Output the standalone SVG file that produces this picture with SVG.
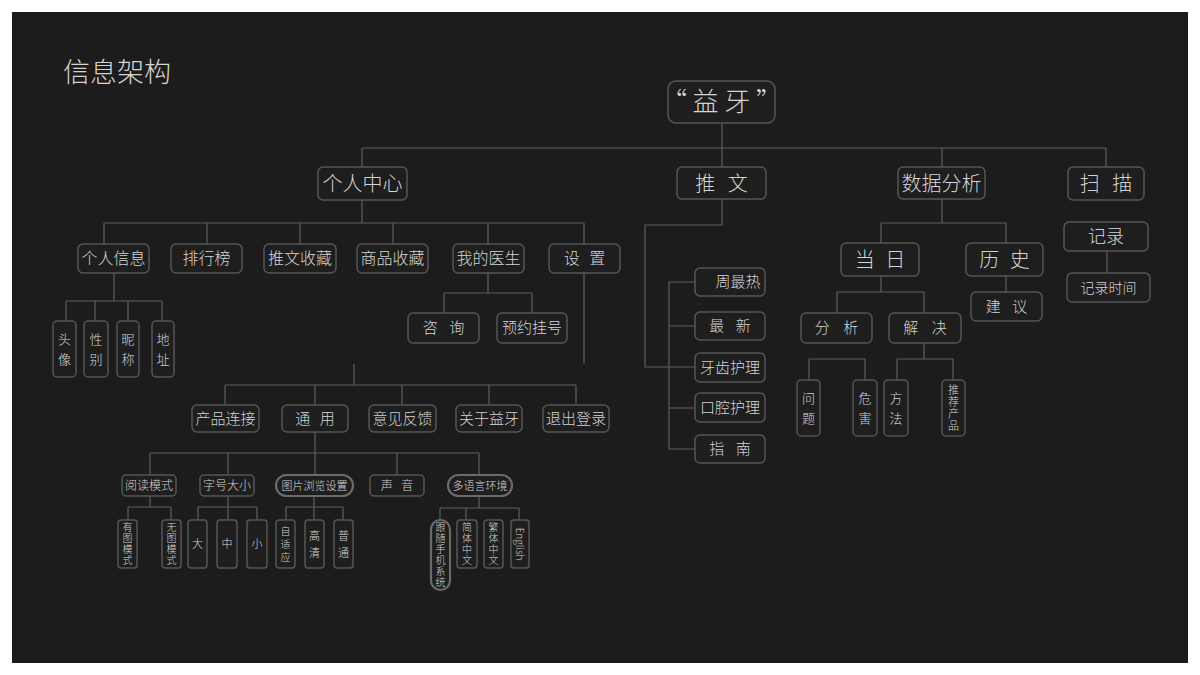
<svg xmlns="http://www.w3.org/2000/svg" width="1200" height="675" viewBox="0 0 1200 675">
<style>
  text { font-family: "Noto Sans CJK SC", "Noto Sans", sans-serif; fill: #d4d4d4; font-weight: 300; text-anchor: middle; }
  .v { writing-mode: vertical-rl; }
  .box { fill: #1e1e1e; stroke: #555555; stroke-width: 1.5; }
  .pill { fill: #1e1e1e; stroke: #6a6a6a; stroke-width: 2.2; }
  .c path { fill: none; stroke: #5e5e5e; stroke-width: 1.2; }
  .f26 { font-size: 26px; }
  .f20 { font-size: 20px; }
  .f18 { font-size: 18px; }
  .f16 { font-size: 16px; }
  .f15 { font-size: 15px; }
  .f14 { font-size: 14px; }
  .f13 { font-size: 13px; }
  .f12 { font-size: 12px; }
  .f11 { font-size: 11px; }
  .f10 { font-size: 10px; }
  .v2 { font-size: 13px; letter-spacing: 7px; }
  .v4 { font-size: 10px; letter-spacing: 1px; }
</style>
<rect x="0" y="0" width="1200" height="675" fill="#ffffff"/>
<rect x="12" y="12" width="1176" height="651" fill="#1c1c1c"/>
<text x="63" y="82" style="font-size:27px;text-anchor:start;font-weight:200">信息架构</text>

<g class="c" id="connectors">
  <path d="M722 123 V167 M362 148 H1106 M362 148 V167 M942 148 V167 M1106 148 V167"/>
  <path d="M722 199 V225 H645 V367 H695 M669 282 V449 M669 282 H695 M669 326 H695 M669 408 H695 M669 449 H695"/>
  <path d="M362 200 V223 M104 223 H584 M104 223 V244 M207 223 V244 M300 223 V244 M393 223 V244 M488 223 V244 M584 223 V244"/>
  <path d="M114 273 V301 M66 301 H162 M66 301 V321 M95 301 V321 M128 301 V321 M162 301 V321"/>
  <path d="M488 273 V293 M444 293 H532 M444 293 V313 M532 293 V313"/>
  <path d="M584 273 V364 M354 364 V385 M225 385 H576 M225 385 V405 M315 385 V405 M402 385 V405 M489 385 V405 M576 385 V405"/>
  <path d="M315 432 V475 M150 453 H479 M150 453 V475 M228 453 V475 M397 453 V475 M479 453 V475"/>
  <path d="M150 496 V507 M128 507 H171 M128 507 V520 M171 507 V520"/>
  <path d="M228 496 V520 M198 507 H257 M198 507 V520 M257 507 V520"/>
  <path d="M314 496 V520 M286 507 H343 M286 507 V520 M343 507 V520"/>
  <path d="M479 496 V508 M440 508 H519 M440 508 V520 M466 508 V520 M519 508 V520"/>
  <path d="M942 199 V223 M881 223 H1006 M881 223 V243 M1006 223 V243"/>
  <path d="M881 276 V292 M837 292 H924 M837 292 V313 M924 292 V313"/>
  <path d="M924 343 V359 M897 359 H953 M897 359 V380 M953 359 V380"/>
  <path d="M809 359 H865 M809 359 V380 M865 359 V380"/>
  <path d="M1006 276 V292 M1107 251 V273"/>
</g>

<g id="root"><rect class="box" x="668" y="81" width="107" height="42" rx="8"/><text class="f26" x="721.5" y="111">“ 益 牙 ”</text></g>

<g id="n-gerenzhongxin"><rect class="box" x="318" y="167" width="89" height="33" rx="5"/><text class="f20" x="362.5" y="191">个人中心</text></g>
<g id="n-tuiwen"><rect class="box" x="677" y="167" width="89" height="32" rx="5"/><text class="f20" x="721.5" y="191" word-spacing="8">推 文</text></g>
<g id="n-shujufenxi"><rect class="box" x="898" y="167" width="87" height="32" rx="5"/><text class="f20" x="941.5" y="191">数据分析</text></g>
<g id="n-saomiao"><rect class="box" x="1068" y="167" width="76" height="33" rx="5"/><text class="f20" x="1106" y="191" word-spacing="8">扫 描</text></g>

<g id="n-gerenxinxi"><rect class="box" x="78" y="244" width="71" height="29" rx="5"/><text class="f16" x="113.5" y="264">个人信息</text></g>
<g id="n-paihangbang"><rect class="box" x="171" y="244" width="71" height="29" rx="5"/><text class="f16" x="206.5" y="264">排行榜</text></g>
<g id="n-tuiwenshoucang"><rect class="box" x="264" y="244" width="72" height="29" rx="5"/><text class="f16" x="300" y="264">推文收藏</text></g>
<g id="n-shangpinshoucang"><rect class="box" x="357" y="244" width="71" height="29" rx="5"/><text class="f16" x="392.5" y="264">商品收藏</text></g>
<g id="n-wodeyisheng"><rect class="box" x="453" y="244" width="71" height="29" rx="5"/><text class="f16" x="488.5" y="264">我的医生</text></g>
<g id="n-shezhi"><rect class="box" x="549" y="244" width="71" height="29" rx="5"/><text class="f16" x="584.5" y="264" word-spacing="6">设 置</text></g>

<g id="n-touxiang"><rect class="box" x="53" y="321" width="23" height="56" rx="4"/><text class="v v2" x="64.5" y="352.5">头像</text></g>
<g id="n-xingbie"><rect class="box" x="84" y="321" width="24" height="56" rx="4"/><text class="v v2" x="96" y="352.5">性别</text></g>
<g id="n-nicheng"><rect class="box" x="117" y="321" width="22" height="56" rx="4"/><text class="v v2" x="128" y="352.5">昵称</text></g>
<g id="n-dizhi"><rect class="box" x="152" y="321" width="22" height="56" rx="4"/><text class="v v2" x="163" y="352.5">地址</text></g>

<g id="n-zixun"><rect class="box" x="408" y="313" width="71" height="30" rx="5"/><text class="f15" x="443.5" y="333" word-spacing="8">咨 询</text></g>
<g id="n-yuyueguahao"><rect class="box" x="497" y="313" width="70" height="30" rx="5"/><text class="f15" x="532" y="333">预约挂号</text></g>

<g id="n-chanpinlianjie"><rect class="box" x="192" y="405" width="67" height="27" rx="5"/><text class="f15" x="225.5" y="424">产品连接</text></g>
<g id="n-tongyong"><rect class="box" x="282" y="405" width="66" height="27" rx="5"/><text class="f15" x="315" y="424" word-spacing="6">通 用</text></g>
<g id="n-yijianfankui"><rect class="box" x="369" y="405" width="67" height="27" rx="5"/><text class="f15" x="402.5" y="424">意见反馈</text></g>
<g id="n-guanyuyiya"><rect class="box" x="456" y="405" width="66" height="27" rx="5"/><text class="f15" x="489" y="424">关于益牙</text></g>
<g id="n-tuichudenglu"><rect class="box" x="543" y="405" width="66" height="27" rx="5"/><text class="f15" x="576" y="424">退出登录</text></g>

<g id="n-yueduomoshi"><rect class="box" x="122" y="475" width="54" height="21" rx="4"/><text class="f12" x="149" y="490">阅读模式</text></g>
<g id="n-zihaodaxiao"><rect class="box" x="200" y="475" width="54" height="21" rx="4"/><text class="f12" x="227" y="490">字号大小</text></g>
<g id="n-tupianliulan"><rect class="pill" x="276" y="475" width="77" height="21" rx="10.5"/><text class="f11" x="314.5" y="490">图片浏览设置</text></g>
<g id="n-shengyin"><rect class="box" x="370" y="475" width="54" height="21" rx="4"/><text class="f12" x="397" y="490" word-spacing="6">声 音</text></g>
<g id="n-duoyuyan"><rect class="pill" x="448" y="475" width="64" height="21" rx="10.5"/><text class="f11" x="480" y="490">多语言环境</text></g>

<g id="n-youtu"><rect class="box" x="118" y="520" width="19" height="48" rx="3"/><text class="v v4" x="127.5" y="544.5">有图模式</text></g>
<g id="n-wutu"><rect class="box" x="162" y="520" width="19" height="48" rx="3"/><text class="v v4" x="171.5" y="544.5">无图模式</text></g>
<g id="n-da"><rect class="box" x="188" y="520" width="19" height="48" rx="3"/><text class="f11" x="197.5" y="548">大</text></g>
<g id="n-zhong"><rect class="box" x="217" y="520" width="20" height="48" rx="3"/><text class="f11" x="227" y="548">中</text></g>
<g id="n-xiao"><rect class="box" x="247" y="520" width="20" height="48" rx="3"/><text class="f11" x="257" y="548">小</text></g>
<g id="n-zishiying"><rect class="box" x="276" y="520" width="19" height="48" rx="3"/><text class="v" x="285.5" y="545.5" style="font-size:10px;letter-spacing:3px">自适应</text></g>
<g id="n-gaoqing"><rect class="box" x="305" y="520" width="19" height="48" rx="3"/><text class="v" x="314.5" y="547" style="font-size:11px;letter-spacing:6px">高清</text></g>
<g id="n-putong"><rect class="box" x="334" y="520" width="19" height="48" rx="3"/><text class="v" x="343.5" y="547" style="font-size:11px;letter-spacing:6px">普通</text></g>
<g id="n-gensui"><rect class="pill" x="431" y="520" width="19" height="70" rx="9.5"/><text class="v v4" x="440.5" y="555.5">跟随手机系统</text></g>
<g id="n-jianti"><rect class="box" x="457" y="520" width="20" height="48" rx="3"/><text class="v v4" x="467" y="544.5">简体中文</text></g>
<g id="n-fanti"><rect class="box" x="484" y="520" width="19" height="48" rx="3"/><text class="v v4" x="493.5" y="544.5">繁体中文</text></g>
<g id="n-english"><rect class="box" x="511" y="520" width="18" height="48" rx="3"/><text class="v f10" x="520" y="544">English</text></g>

<g id="n-zhouzuire"><rect class="box" x="695" y="268" width="70" height="28" rx="5"/><text class="f15" x="738" y="287">周最热</text></g>
<g id="n-zuixin"><rect class="box" x="695" y="312" width="70" height="28" rx="5"/><text class="f15" x="730" y="331" word-spacing="8">最 新</text></g>
<g id="n-yachi"><rect class="box" x="695" y="353" width="70" height="29" rx="5"/><text class="f15" x="730" y="373">牙齿护理</text></g>
<g id="n-kouqiang"><rect class="box" x="695" y="393" width="70" height="29" rx="5"/><text class="f15" x="730" y="413">口腔护理</text></g>
<g id="n-zhinan"><rect class="box" x="695" y="435" width="70" height="28" rx="5"/><text class="f15" x="730" y="454" word-spacing="8">指 南</text></g>

<g id="n-dangri"><rect class="box" x="841" y="243" width="78" height="33" rx="5"/><text class="f20" x="880" y="267" word-spacing="6">当 日</text></g>
<g id="n-lishi"><rect class="box" x="966" y="243" width="77" height="33" rx="5"/><text class="f20" x="1004.5" y="267" word-spacing="6">历 史</text></g>
<g id="n-jilu"><rect class="box" x="1064" y="222" width="84" height="29" rx="5"/><text class="f18" x="1106" y="243">记录</text></g>
<g id="n-jilushijian"><rect class="box" x="1067" y="273" width="83" height="29" rx="5"/><text class="f14" x="1108.5" y="293">记录时间</text></g>
<g id="n-jianyi"><rect class="box" x="971" y="292" width="71" height="29" rx="5"/><text class="f15" x="1006.5" y="312" word-spacing="8">建 议</text></g>
<g id="n-fenxi"><rect class="box" x="801" y="313" width="71" height="30" rx="5"/><text class="f15" x="836.5" y="333" word-spacing="10">分 析</text></g>
<g id="n-jiejue"><rect class="box" x="889" y="313" width="72" height="30" rx="5"/><text class="f15" x="925" y="333" word-spacing="10">解 决</text></g>

<g id="n-wenti"><rect class="box" x="797" y="380" width="23" height="56" rx="4"/><text class="v v2" x="808.5" y="411.5">问题</text></g>
<g id="n-weihai"><rect class="box" x="853" y="380" width="24" height="56" rx="4"/><text class="v v2" x="865" y="411.5">危害</text></g>
<g id="n-fangfa"><rect class="box" x="884" y="380" width="24" height="56" rx="4"/><text class="v v2" x="896" y="411.5">方法</text></g>
<g id="n-tuijian"><rect class="box" x="942" y="380" width="23" height="56" rx="4"/><text class="v" x="953.5" y="408.5" style="font-size:11px;letter-spacing:1px">推荐产品</text></g>
</svg>
